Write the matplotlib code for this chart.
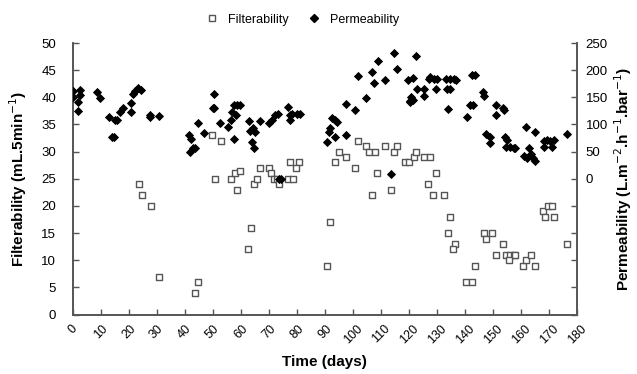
import matplotlib
matplotlib.use("Agg")
import matplotlib.pyplot as plt
from matplotlib.lines import Line2D

plt.rcParams['font.family'] = ['Liberation Sans', 'DejaVu Sans']

# Filterability (mL.5min-1) vs time (days)
filt_days = [23.7, 24.7, 27.8, 30.9, 43.7, 44.8, 49.9, 52.9, 50.7, 56.5, 57.8, 59.8, 58.6,
             62.7, 63.7, 64.8, 65.8, 66.7, 69.9, 70.8, 71.7, 72.9, 73.8, 76.7, 78.8, 77.6,
             80.6, 79.8, 90.7, 91.7, 93.7, 94.9, 97.6, 100.6, 101.7, 104.7, 105.6, 108.0,
             108.6, 106.8, 111.6, 113.7, 114.5, 115.7, 118.7, 119.9, 121.7, 122.6, 125.5,
             127.6, 129.8, 126.7, 128.6, 132.6, 134.5, 133.8, 136.6, 135.8, 140.5, 142.5,
             143.7, 146.7, 149.7, 147.6, 150.9, 153.6, 154.8, 156.2, 157.4, 158.0, 155.6,
             160.7, 161.6, 163.7, 164.8, 167.8, 168.5, 169.7, 170.9, 171.7, 176.4]
filt_vals = [24, 22, 20, 7, 4, 6, 33, 32, 25, 25, 26, 26.5, 23,
             12, 16, 24, 25, 27, 27, 26, 25, 25, 24, 25, 25, 28,
             28, 27, 9, 17, 28, 30, 29, 27, 32, 31, 30, 30,
             26, 22, 31, 23, 30, 31, 28, 28, 29, 30, 29,
             29, 26, 24, 22, 22, 18, 15, 13, 12, 6, 6,
             9, 15, 15, 14, 11, 13, 11, 11, 11, 11, 10,
             9, 10, 11, 9, 19, 18, 20, 20, 18, 13]

# Permeability (L.m-2.h-1.bar-1) vs time (days)
perm_days = [0.0, 0.0, 2.8, 2.8, 2.0, 2.0, 8.6, 9.8, 13.0, 14.2, 14.8, 15.0, 15.7, 17.0,
             17.8, 20.8, 20.8, 21.7, 22.3, 23.5, 24.4, 27.6, 27.6, 30.9,
             41.7, 42.2, 42.0, 43.1, 43.7, 44.7, 46.9, 50.5, 50.0, 50.6, 52.6, 55.6, 56.6,
             56.8, 57.6, 57.7, 58.6, 59.8, 58.4,
             62.8, 66.7, 63.4, 64.3, 65.0, 64.0, 64.8, 69.9, 71.0, 72.3, 73.3, 73.5, 74.5,
             76.8, 77.4, 78.3, 77.7, 80.0, 81.2,
             90.7, 91.3, 91.9, 92.5, 93.7, 94.5, 93.7, 97.6, 97.6, 100.7, 101.7, 104.7,
             106.8, 107.7, 108.8, 111.6, 113.7, 114.5, 115.7, 119.5, 120.5,
             121.6, 120.7, 121.4, 120.2, 122.6, 122.9, 125.5, 125.5, 127.6, 127.0, 128.8,
             130.0, 129.8, 133.3, 134.8, 136.0, 136.9, 133.6, 134.8, 133.8, 142.5, 143.7,
             140.8, 141.7, 142.9, 146.3, 146.6, 150.9, 150.9, 153.6, 153.8, 147.6, 149.0,
             148.8, 154.4, 155.0, 154.8, 156.2, 157.4, 158.0, 161.8, 162.8, 160.9, 162.1,
             163.7, 164.3, 164.9, 164.8, 168.1, 169.3, 170.5, 171.7, 168.1, 171.1, 176.4]
perm_vals = [162, 151, 163, 154, 141, 125, 160, 148, 114, 77, 77, 108, 109, 123,
             130, 139, 123, 157, 162, 167, 163, 117, 113, 116,
             81, 74, 50, 56, 56, 102, 84, 157, 131, 130, 102, 96, 108,
             123, 136, 73, 136, 136, 117,
             106, 107, 88, 93, 87, 68, 57, 102, 108, 117, 120, 0, 0,
             133, 117, 120, 108, 120, 120,
             68, 87, 93, 111, 108, 105, 77, 81, 137, 127, 189, 149,
             197, 177, 216, 182, 9, 232, 203, 182, 142,
             185, 151, 145, 143, 226, 165, 165, 152, 188, 183, 183,
             183, 165, 183, 183, 183, 182, 165, 165, 128, 191, 191,
             113, 136, 136, 160, 152, 136, 117, 131, 127, 82, 77,
             65, 77, 71, 59, 59, 56, 56, 95, 57, 42, 39,
             46, 38, 33, 86, 70, 71, 70, 71, 59, 59, 82]

x_ticks = list(range(0, 181, 10))
left_ticks = list(range(0, 51, 5))
right_ticks = list(range(-250, 251, 50))

fig = plt.figure(figsize=(6.37, 3.74), dpi=100)
ax = fig.add_axes([0.114, 0.159, 0.792, 0.726])
ax2 = ax.twinx()

spine_col = '#555555'
ax.scatter(filt_days, filt_vals, marker='s', s=15, facecolors='white',
           edgecolors='#555555', linewidths=1.0, zorder=3)
ax2.scatter(perm_days, perm_vals, marker='D', s=22, color='black',
            linewidths=0, zorder=4)

ax.set_xlim(0, 180)
ax.set_ylim(0, 50)
ax2.set_ylim(-250, 250)
ax.set_xticks(x_ticks)
ax.set_xticklabels([str(t) for t in x_ticks], rotation=45, fontsize=9)
ax.set_yticks(left_ticks)
ax.set_yticklabels([str(t) for t in left_ticks], fontsize=9.5)
ax2.set_yticks(right_ticks)
ax2.set_yticklabels([str(t) if t >= 0 else '' for t in right_ticks], fontsize=9.5)

for a in (ax, ax2):
    a.spines['top'].set_visible(False)
    for s in ('left', 'right', 'bottom'):
        a.spines[s].set_color(spine_col)
        a.spines[s].set_linewidth(1.2)
ax.tick_params(axis='x', direction='in', length=4, color=spine_col, width=1, pad=6)
ax.tick_params(axis='y', direction='in', length=4, color=spine_col, width=1, pad=12)
ax2.tick_params(axis='y', direction='in', length=4, color=spine_col, width=1, pad=6)

ax.set_xlabel('Time (days)', fontsize=11, fontweight='bold', labelpad=6)
ax.set_ylabel('Filterability (mL.5min$^{-1}$)', fontsize=11, fontweight='bold', labelpad=9)
ax2.set_ylabel('Permeability (L.m$^{-2}$.h$^{-1}$.bar$^{-1}$)', fontsize=11,
               fontweight='bold', labelpad=3)

handles = [Line2D([], [], marker='s', linestyle='none', markersize=4,
                  markerfacecolor='white', markeredgecolor='#555555', label='Filterability'),
           Line2D([], [], marker='D', linestyle='none', markersize=4,
                  color='black', label='Permeability')]
fig.legend(handles=handles, loc='center', bbox_to_anchor=(0.47, 0.947), ncol=2,
           frameon=False, fontsize=9, handletextpad=0.3, columnspacing=1.0)

fig.savefig('out.png', dpi=100)
